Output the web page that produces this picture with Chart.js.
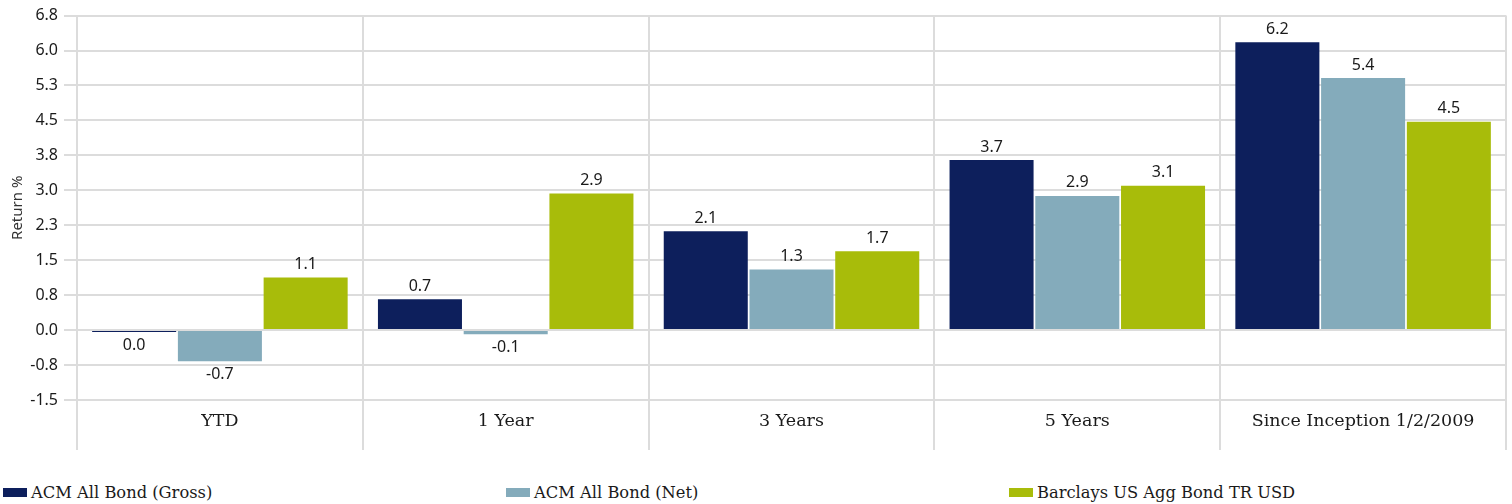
<!DOCTYPE html>
<html>
<head>
<meta charset="utf-8">
<script src="https://cdn.jsdelivr.net/npm/chart.js@4.4.1/dist/chart.umd.min.js"></script>
<style>
  html, body { margin: 0; padding: 0; background: #fff; }
  #wrap { position: relative; width: 1512px; height: 468px; }
  #legend {
    position: absolute; top: 483px; left: 3px; width: 1509px;
    display: flex; font-family: "DejaVu Serif", serif; font-size: 16.3px; color: #1a1a1a;
  }
  #legend .item { width: 506px; display: flex; align-items: center; }
  #legend .box { width: 24px; height: 9px; margin-right: 4px; }
</style>
</head>
<body>
<div id="wrap"><canvas id="chart"></canvas></div>
<div id="legend"></div>
<script>
const categories = ["YTD", "1 Year", "3 Years", "5 Years", "Since Inception 1/2/2009"];
const seriesNames = ["ACM All Bond (Gross)", "ACM All Bond (Net)", "Barclays US Agg Bond TR USD"];
const grossValues = [-0.04, 0.66, 2.12, 3.65, 6.18];
const netValues = [-0.67, -0.09, 1.30, 2.88, 5.41];
const barclaysValues = [1.13, 2.93, 1.69, 3.10, 4.47];
const yTickLabels = ["-1.5", "-0.8", "0.0", "0.8", "1.5", "2.3", "3.0", "3.8", "4.5", "5.3", "6.0", "6.8"];
const colors = ["#0d1f5c", "#84abbb", "#a8bc0a"];

const gridColor = "#dcdcdc";
const sansFont = "'Noto Sans', sans-serif";
const serifFont = "'DejaVu Serif', serif";

// value labels above (or below) each bar
const valueLabels = {
  id: "valueLabels",
  afterDatasetsDraw(chart) {
    const ctx = chart.ctx;
    ctx.save();
    ctx.font = "16px " + sansFont;
    ctx.fillStyle = "#1a1a1a";
    ctx.textAlign = "center";
    chart.data.datasets.forEach((ds, di) => {
      const meta = chart.getDatasetMeta(di);
      meta.data.forEach((bar, i) => {
        const v = ds.data[i];
        const txt = (Math.round(v * 10) / 10 || 0).toFixed(1);
        if (v >= 0) {
          ctx.textBaseline = "bottom";
          ctx.fillText(txt, bar.x, bar.y - 5);
        } else {
          ctx.textBaseline = "top";
          ctx.fillText(txt, bar.x, bar.y + 5);
        }
      });
    });
    ctx.restore();
  }
};

const data = {
  labels: categories,
  datasets: [grossValues, netValues, barclaysValues].map((vals, i) => ({
    label: seriesNames[i],
    data: vals,
    backgroundColor: colors[i],
    barPercentage: 0.98,
    categoryPercentage: 0.9,
  }))
};

new Chart(document.getElementById("chart"), {
  type: "bar",
  data,
  options: {
    responsive: true,
    maintainAspectRatio: false,
    animation: false,
    layout: { padding: { top: 13, right: 6, left: 0, bottom: 0 } },
    plugins: {
      legend: { display: false },
      tooltip: { enabled: false }
    },
    scales: {
      x: {
        offset: true,
        grid: { offset: true, color: gridColor, lineWidth: 2, tickLength: 50 },
        border: { color: gridColor, width: 2 },
        ticks: { padding: -39, color: "#1a1a1a", font: { family: serifFont, size: 17.5 } },
        afterFit: (s) => { s.height = 68; }
      },
      y: {
        min: -1.5,
        max: 6.75,
        grid: { color: gridColor, lineWidth: 2, tickLength: 13 },
        border: { color: gridColor, width: 2 },
        ticks: {
          stepSize: 0.75,
          padding: 6,
          color: "#1a1a1a",
          font: { family: sansFont, size: 16 },
          callback: (v, i) => yTickLabels[i]
        },
        title: {
          display: true,
          text: "Return %",
          color: "#333",
          font: { family: sansFont, size: 15 },
          padding: { top: 9, bottom: 0 }
        },
        afterFit: (s) => { s.width = 77; }
      }
    }
  },
  plugins: [valueLabels]
});

// legend in three equal columns
const legendEl = document.getElementById("legend");
seriesNames.forEach((name, i) => {
  const item = document.createElement("div");
  item.className = "item";
  item.innerHTML = `<span class="box" style="background:${colors[i]}"></span><span>${name}</span>`;
  legendEl.appendChild(item);
});
</script>
</body>
</html>
